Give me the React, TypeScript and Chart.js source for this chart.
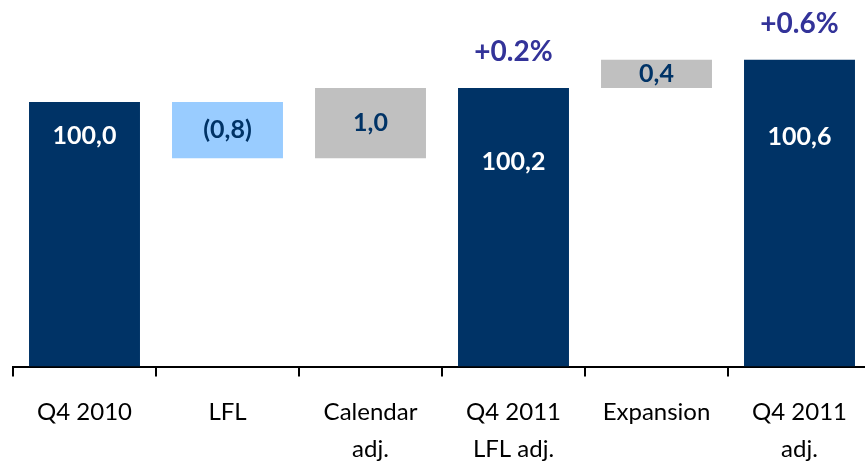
import React, { useEffect, useRef } from "react";
import { Chart, registerables } from "chart.js";

Chart.register(...registerables);

// ---- data ----
const categories: string[][] = [
  ["Q4 2010"],
  ["LFL"],
  ["Calendar", "adj."],
  ["Q4 2011", "LFL adj."],
  ["Expansion"],
  ["Q4 2011", "adj."],
];
const kinds = ["total", "delta", "delta", "total", "delta", "total"];
const values = [100.0, -0.8, 1.0, 100.2, 0.4, 100.6];
const valueLabels = ["100,0", "(0,8)", "1,0", "100,2", "0,4", "100,6"];
const growthLabels = ["", "", "", "+0.2%", "", "+0.6%"];
const axisMin = 96.24;
const axisMax = 101.45;

// ---- styles ----
const NAVY = "#003366";
const LIGHT = "#99CCFF";
const GREY = "#C0C0C0";
const PURPLE = "#333399";
const barColors = [NAVY, LIGHT, GREY, NAVY, GREY, NAVY];
const labelColors = ["#FFFFFF", NAVY, NAVY, "#FFFFFF", NAVY, "#FFFFFF"];
// offset (px) of total-bar labels below bar top; null = centred in bar
const labelOffsets: (number | null)[] = [34, null, null, 74, null, 77];
const FONT = "Lato, 'Open Sans', sans-serif";

function buildRanges(): [number, number][] {
  const out: [number, number][] = [];
  let running = 0;
  kinds.forEach((k, i) => {
    if (k === "total") {
      out.push([axisMin, values[i]]);
      running = values[i];
    } else {
      out.push([running, running + values[i]]);
      running = running + values[i];
    }
  });
  return out;
}

const labelPlugin = {
  id: "waterfallLabels",
  afterDatasetsDraw(chart: any) {
    const ctx = chart.ctx;
    const meta = chart.getDatasetMeta(0);
    ctx.save();
    ctx.textAlign = "center";
    ctx.textBaseline = "middle";
    meta.data.forEach((bar: any, i: number) => {
      const top = Math.min(bar.y, bar.base);
      const bottom = Math.max(bar.y, bar.base);
      const off = labelOffsets[i];
      const y = off == null ? (top + bottom) / 2 : top + off;
      ctx.font = `bold 25px ${FONT}`;
      ctx.fillStyle = labelColors[i];
      ctx.fillText(valueLabels[i], bar.x, y);
      if (growthLabels[i]) {
        ctx.font = `bold 28px ${FONT}`;
        ctx.fillStyle = PURPLE;
        ctx.fillText(growthLabels[i], bar.x, top - 36);
      }
    });
    ctx.restore();
  },
};

export default function App() {
  const ref = useRef<HTMLCanvasElement | null>(null);
  useEffect(() => {
    if (!ref.current) return;
    const chart = new Chart(ref.current, {
      type: "bar",
      data: {
        labels: categories,
        datasets: [
          {
            data: buildRanges() as any,
            backgroundColor: barColors,
            borderWidth: 0,
            barPercentage: 0.776,
            categoryPercentage: 1,
          },
        ],
      },
      options: {
        responsive: false,
        animation: false,
        layout: { padding: { left: 13, right: 0, top: 0, bottom: 0 } },
        plugins: {
          legend: { display: false },
          tooltip: { enabled: false },
        },
        scales: {
          x: {
            grid: {
              display: true,
              drawOnChartArea: false,
              drawTicks: true,
              tickLength: 10,
              offset: true,
              color: "#000",
              lineWidth: 2,
            },
            border: { display: true, color: "#000", width: 2 },
            ticks: {
              color: "#000",
              font: { family: FONT, size: 24, lineHeight: 1.55 },
              padding: 17,
              autoSkip: false,
              maxRotation: 0,
              minRotation: 0,
            },
          },
          y: { display: false, min: axisMin, max: axisMax },
        },
      },
      plugins: [labelPlugin],
    });
    return () => chart.destroy();
  }, []);
  return (
    <div
      style={{
        position: "fixed",
        left: 0,
        top: 0,
        width: 865,
        height: 465,
        overflow: "hidden",
        background: "#fff",
      }}
    >
      <canvas ref={ref} width={871} height={485} style={{ display: "block" }} />
    </div>
  );
}
